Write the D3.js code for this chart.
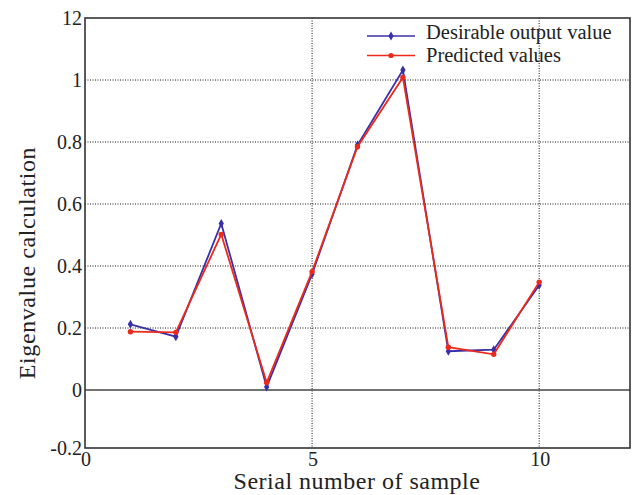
<!DOCTYPE html>
<html>
<head>
<meta charset="utf-8">
<script src="https://cdn.jsdelivr.net/npm/d3@7"></script>
<style>
body { margin: 0; background: #fff; }
text { font-family: "Liberation Serif", "Times New Roman", serif; fill: #222; }
</style>
</head>
<body>
<svg id="chart" width="633" height="495"></svg>
<script>
var samples = [1, 2, 3, 4, 5, 6, 7, 8, 9, 10];
var desired = [0.212, 0.172, 0.537, 0.01, 0.374, 0.79, 1.032, 0.125, 0.13, 0.338];
var predicted = [0.188, 0.186, 0.502, 0.024, 0.382, 0.785, 1.008, 0.138, 0.115, 0.348];
var xTicks = [0, 5, 10];
var yTicks = [-0.2, 0, 0.2, 0.4, 0.6, 0.8, 1, 1.2];
var yTickLabels = ["-0.2", "0", "0.2", "0.4", "0.6", "0.8", "1", "12"];
var seriesNames = ["Desirable output value", "Predicted values"];

var svg = d3.select("#chart");
var pLeft = 85, pRight = 630, pTop = 18, pBottom = 448;

var x = d3.scaleLinear().domain([0, 12]).range([pLeft, pRight]);
// the printed figure's axis is slightly uneven, zero sits a bit low
var y = d3.scaleLinear().domain([-0.2, 0, 1.2]).range([pBottom, 390, pTop]);

// grid
svg.append("g").selectAll("line")
    .data(yTicks.filter(function(d) { return d > 0 && d < 1.2; }))
    .enter().append("line")
    .attr("x1", pLeft).attr("x2", pRight)
    .attr("y1", function(d) { return y(d); })
    .attr("y2", function(d) { return y(d); })
    .attr("stroke", "#111")
    .attr("stroke-width", 1)
    .attr("stroke-dasharray", "1,1.5");
svg.append("g").selectAll("line")
    .data(xTicks.filter(function(d) { return d > 0; }))
    .enter().append("line")
    .attr("y1", pTop).attr("y2", pBottom)
    .attr("x1", function(d) { return x(d); })
    .attr("x2", function(d) { return x(d); })
    .attr("stroke", "#111")
    .attr("stroke-width", 1)
    .attr("stroke-dasharray", "1,1.5");

// zero line
svg.append("line")
    .attr("x1", pLeft).attr("x2", pRight)
    .attr("y1", y(0)).attr("y2", y(0))
    .attr("stroke", "#444")
    .attr("stroke-width", 1.4);

// frame
svg.append("rect")
    .attr("x", pLeft).attr("y", pTop)
    .attr("width", pRight - pLeft).attr("height", pBottom - pTop)
    .attr("fill", "none")
    .attr("stroke", "#333")
    .attr("stroke-width", 1.6);

// tick labels
svg.append("g").selectAll("text")
    .data(yTicks)
    .enter().append("text")
    .attr("x", pLeft - 3)
    .attr("y", function(d) { return y(d); })
    .attr("dy", "0.35em")
    .attr("text-anchor", "end")
    .style("font-size", "20px")
    .text(function(d, i) { return yTickLabels[i]; });
svg.append("g").selectAll("text")
    .data(xTicks)
    .enter().append("text")
    .attr("x", function(d) { return x(d) + 1; })
    .attr("y", pBottom + 18)
    .attr("text-anchor", "middle")
    .style("font-size", "20px")
    .text(function(d) { return d; });

// axis titles
svg.append("text")
    .attr("x", 357)
    .attr("y", 489)
    .attr("text-anchor", "middle")
    .style("font-size", "24px")
    .style("letter-spacing", "0.5px")
    .text("Serial number of sample");
svg.append("text")
    .attr("transform", "translate(35,263) rotate(-90)")
    .attr("text-anchor", "middle")
    .style("font-size", "24px")
    .style("letter-spacing", "0.6px")
    .text("Eigenvalue calculation");

var line = d3.line()
    .x(function(d, i) { return x(samples[i]); })
    .y(function(d) { return y(d); });

var diamond = d3.symbol().type(d3.symbolDiamond).size(24);

// desired series
svg.append("path")
    .datum(desired)
    .attr("d", line)
    .attr("fill", "none")
    .attr("stroke", "#3a2fa6")
    .attr("stroke-width", 1.8);
svg.append("g").selectAll("path")
    .data(desired)
    .enter().append("path")
    .attr("d", diamond)
    .attr("transform", function(d, i) { return "translate(" + x(samples[i]) + "," + y(d) + ")"; })
    .attr("fill", "#3a2fa6");

// predicted series
svg.append("path")
    .datum(predicted)
    .attr("d", line)
    .attr("fill", "none")
    .attr("stroke", "#ec2a1c")
    .attr("stroke-width", 1.8);
svg.append("g").selectAll("circle")
    .data(predicted)
    .enter().append("circle")
    .attr("cx", function(d, i) { return x(samples[i]); })
    .attr("cy", function(d) { return y(d); })
    .attr("r", 2.7)
    .attr("fill", "#ec2a1c");

// legend
var legend = svg.append("g").attr("transform", "translate(367,36)");
var colors = ["#3a2fa6", "#ec2a1c"];
seriesNames.forEach(function(name, i) {
  var row = legend.append("g").attr("transform", "translate(0," + (i * 19.5) + ")");
  row.append("line")
    .attr("x1", 0).attr("x2", 48)
    .attr("stroke", colors[i])
    .attr("stroke-width", 1.6);
  if (i === 0) {
    row.append("path").attr("d", diamond)
      .attr("transform", "translate(24,0)")
      .attr("fill", colors[i]);
  } else {
    row.append("circle").attr("cx", 24).attr("r", 2.6).attr("fill", colors[i]);
  }
  row.append("text")
    .attr("x", 59)
    .attr("y", i === 0 ? 3 : 6)
    .style("font-size", "20.5px")
    .text(name);
});
</script>
</body>
</html>
